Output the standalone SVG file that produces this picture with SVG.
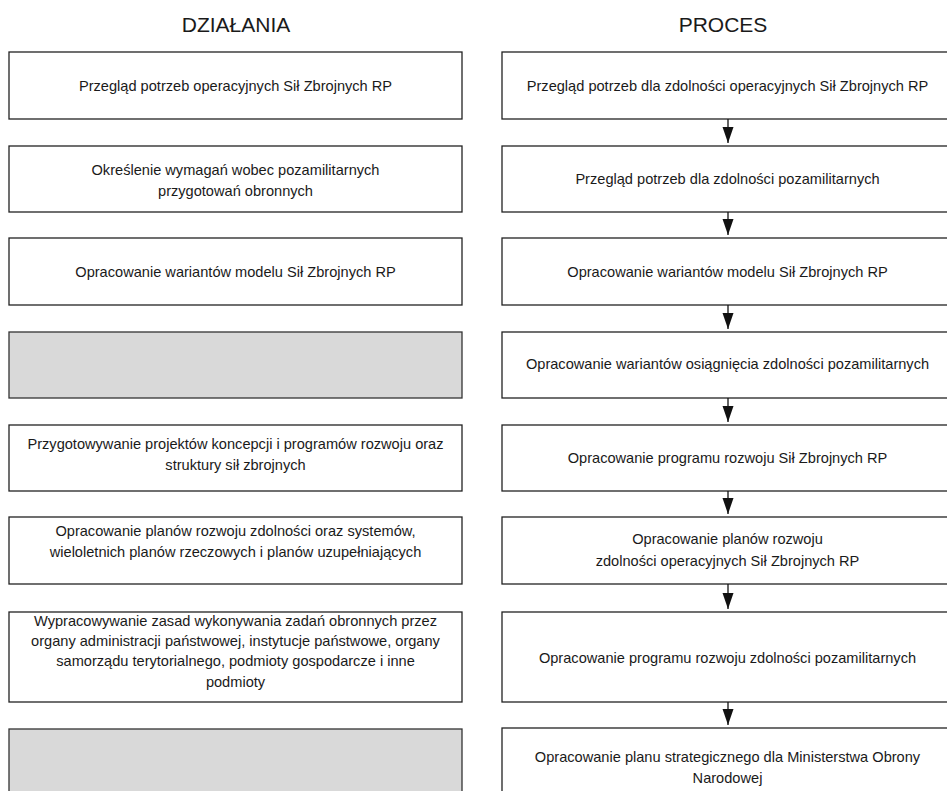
<svg xmlns="http://www.w3.org/2000/svg" width="947" height="791" viewBox="0 0 947 791">
<style>
.box{fill:#ffffff;stroke:#222222;stroke-width:1.3}
.gray{fill:#d9d9d9;stroke:#333333;stroke-width:1.3}
text{font-family:"Liberation Sans",Arial,sans-serif;font-size:14.6px;fill:#1a1a1a;text-anchor:middle}
.hdr{font-size:21px}
.conn{stroke:#111111;stroke-width:1.3;fill:none}
</style>
<defs>
<marker id="ah" markerUnits="userSpaceOnUse" markerWidth="17" markerHeight="12" refX="16" refY="5.5" orient="auto" viewBox="0 0 17 12">
<path d="M0,0 L16,5.5 L0,11 Z" fill="#111111"/>
</marker>
</defs>
<rect width="947" height="791" fill="#ffffff"/>
<g id="headers">
<text class="hdr" x="236" y="32">DZIAŁANIA</text>
<text class="hdr" x="723" y="32">PROCES</text>
</g>
<g id="left1"><rect class="box" x="9" y="52" width="453" height="67"/><text x="235.5" y="91">Przegląd potrzeb operacyjnych Sił Zbrojnych RP</text></g>
<g id="left2"><rect class="box" x="9" y="146" width="453" height="66"/><text x="235.5" y="175">Określenie wymagań wobec pozamilitarnych</text><text x="235.5" y="196">przygotowań obronnych</text></g>
<g id="left3"><rect class="box" x="9" y="238" width="453" height="67"/><text x="235.5" y="277">Opracowanie wariantów modelu Sił Zbrojnych RP</text></g>
<g id="left4"><rect class="gray" x="9" y="332" width="453" height="66"/></g>
<g id="left5"><rect class="box" x="9" y="425" width="453" height="66"/><text x="235.5" y="449">Przygotowywanie projektów koncepcji i programów rozwoju oraz</text><text x="235.5" y="470">struktury sił zbrojnych</text></g>
<g id="left6"><rect class="box" x="9" y="517" width="453" height="67"/><text x="235.5" y="536">Opracowanie planów rozwoju zdolności oraz systemów,</text><text x="235.5" y="557">wieloletnich planów rzeczowych i planów uzupełniających</text></g>
<g id="left7"><rect class="box" x="9" y="612" width="453" height="90"/><text x="235.5" y="626">Wypracowywanie zasad wykonywania zadań obronnych przez</text><text x="235.5" y="646">organy administracji państwowej, instytucje państwowe, organy</text><text x="235.5" y="666">samorządu terytorialnego, podmioty gospodarcze i inne</text><text x="235.5" y="687">podmioty</text></g>
<g id="left8"><rect class="gray" x="9" y="729" width="453" height="80"/></g>
<g id="right1"><rect class="box" x="502" y="52" width="460" height="67"/><text x="727.5" y="91">Przegląd potrzeb dla zdolności operacyjnych Sił Zbrojnych RP</text></g>
<g id="right2"><rect class="box" x="502" y="146" width="460" height="66"/><text x="727.5" y="184">Przegląd potrzeb dla zdolności pozamilitarnych</text></g>
<g id="right3"><rect class="box" x="502" y="238" width="460" height="67"/><text x="727.5" y="277">Opracowanie wariantów modelu Sił Zbrojnych RP</text></g>
<g id="right4"><rect class="box" x="502" y="332" width="460" height="66"/><text x="727.5" y="369">Opracowanie wariantów osiągnięcia zdolności pozamilitarnych</text></g>
<g id="right5"><rect class="box" x="502" y="425" width="460" height="66"/><text x="727.5" y="463">Opracowanie programu rozwoju Sił Zbrojnych RP</text></g>
<g id="right6"><rect class="box" x="502" y="517" width="460" height="67"/><text x="727.5" y="544">Opracowanie planów rozwoju</text><text x="727.5" y="566">zdolności operacyjnych Sił Zbrojnych RP</text></g>
<g id="right7"><rect class="box" x="502" y="612" width="460" height="90"/><text x="727.5" y="663">Opracowanie programu rozwoju zdolności pozamilitarnych</text></g>
<g id="right8"><rect class="box" x="502" y="728" width="460" height="80"/><text x="727.5" y="762">Opracowanie planu strategicznego dla Ministerstwa Obrony</text><text x="727.5" y="783">Narodowej</text></g>
<g id="connectors">
<line class="conn" x1="728" y1="119" x2="728" y2="143" marker-end="url(#ah)"/>
<line class="conn" x1="728" y1="212" x2="728" y2="235" marker-end="url(#ah)"/>
<line class="conn" x1="728" y1="305" x2="728" y2="329" marker-end="url(#ah)"/>
<line class="conn" x1="728" y1="398" x2="728" y2="422" marker-end="url(#ah)"/>
<line class="conn" x1="728" y1="491" x2="728" y2="514" marker-end="url(#ah)"/>
<line class="conn" x1="728" y1="584" x2="728" y2="609" marker-end="url(#ah)"/>
<line class="conn" x1="728" y1="702" x2="728" y2="725" marker-end="url(#ah)"/>
</g>
</svg>
